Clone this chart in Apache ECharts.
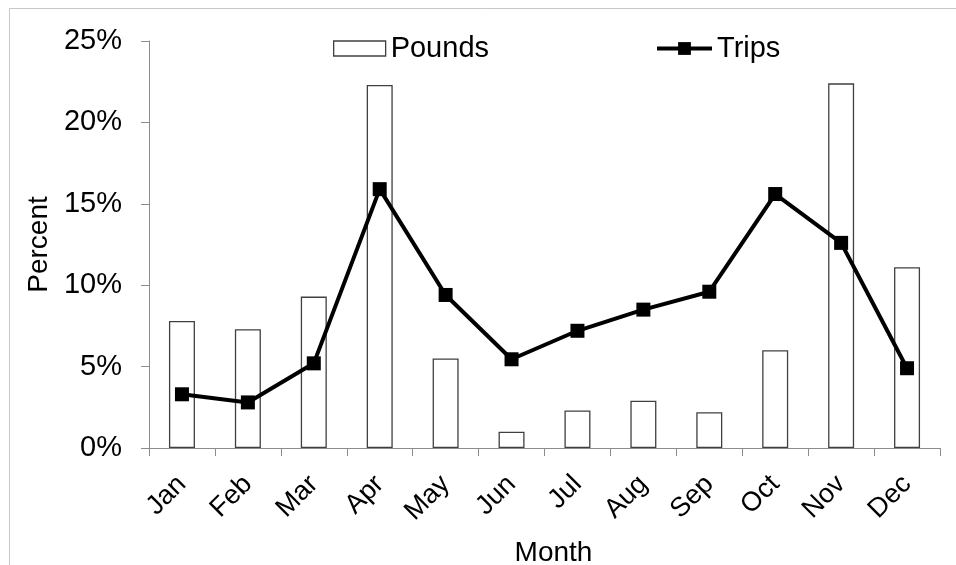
<!DOCTYPE html>
<html>
<head>
<meta charset="utf-8">
<script src="https://cdn.jsdelivr.net/npm/echarts@6/dist/echarts.min.js"></script>
<style>
  html, body { margin: 0; padding: 0; background: #fff; }
  #chart { width: 956px; height: 565px; }
</style>
</head>
<body>
<div id="chart"></div>
<script>
// Monthly share of landings (pounds) and trips, in percent
const months = ['Jan', 'Feb', 'Mar', 'Apr', 'May', 'Jun', 'Jul', 'Aug', 'Sep', 'Oct', 'Nov', 'Dec'];
const pounds = [7.8, 7.3, 9.3, 22.3, 5.5, 1.0, 2.3, 2.9, 2.2, 6.0, 22.4, 11.1];
const trips = [3.3, 2.8, 5.2, 15.9, 9.4, 5.45, 7.2, 8.5, 9.6, 15.6, 12.6, 4.9];
const yTicks = [0, 5, 10, 15, 20, 25];

const FONT = '"Liberation Sans", Arial, sans-serif';
const AXIS_GREY = '#8c8c8c';

const chart = echarts.init(document.getElementById('chart'), null, { renderer: 'canvas' });

chart.setOption({
  animation: false,
  backgroundColor: '#fff',
  textStyle: { fontFamily: FONT, color: '#000' },
  graphic: [{
    type: 'rect',
    shape: { x: 9.5, y: 8.5, width: 1000, height: 600 },
    style: { fill: null, stroke: '#c8c8c8', lineWidth: 1 },
    silent: true
  }],
  legend: [{
    data: [{ name: 'Pounds', icon: 'rect' }],
    left: 333, top: 34, padding: 0,
    itemWidth: 52, itemHeight: 15,
    itemStyle: { color: '#fff', borderColor: '#404040', borderWidth: 1.3 },
    textStyle: { fontSize: 29, fontFamily: FONT, color: '#000' }
  }, {
    data: ['Trips'],
    left: 655, top: 34, padding: 0,
    itemWidth: 55, itemHeight: 16,
    lineStyle: { width: 4, color: '#000' },
    textStyle: { fontSize: 29, fontFamily: FONT, color: '#000' }
  }],
  grid: { left: 149, right: 16, top: 41, bottom: 117, containLabel: false, outerBoundsMode: 'none' },
  xAxis: {
    type: 'category',
    data: months,
    boundaryGap: true,
    name: 'Month',
    nameLocation: 'middle',
    nameGap: 91,
    nameTextStyle: { fontSize: 28, fontFamily: FONT, color: '#000', padding: [0, 0, 0, 18] },
    axisLine: { lineStyle: { color: AXIS_GREY, width: 1 } },
    axisTick: { show: true, length: 8, lineStyle: { color: AXIS_GREY } },
    axisLabel: { rotate: 45, fontSize: 27, fontFamily: FONT, color: '#000', margin: 32, interval: 0 }
  },
  yAxis: {
    type: 'value',
    min: yTicks[0],
    max: yTicks[yTicks.length - 1],
    interval: yTicks[1] - yTicks[0],
    name: 'Percent',
    nameLocation: 'middle',
    nameRotate: 90,
    nameGap: 91,
    nameTextStyle: { fontSize: 28, fontFamily: FONT, color: '#000' },
    axisLine: { show: true, lineStyle: { color: AXIS_GREY, width: 1 } },
    axisTick: { show: true, length: 8, lineStyle: { color: AXIS_GREY } },
    splitLine: { show: false },
    axisLabel: { formatter: '{value}%', fontSize: 29, fontFamily: FONT, color: '#000', margin: 27 }
  },
  series: [{
    name: 'Pounds',
    type: 'bar',
    data: pounds,
    barWidth: 26,
    itemStyle: { color: '#fff', borderColor: '#404040', borderWidth: 1.3 }
  }, {
    name: 'Trips',
    type: 'line',
    data: trips,
    symbol: 'rect',
    symbolSize: 14,
    lineStyle: { color: '#000', width: 4 },
    itemStyle: { color: '#000' },
    z: 5
  }]
});
</script>
</body>
</html>
